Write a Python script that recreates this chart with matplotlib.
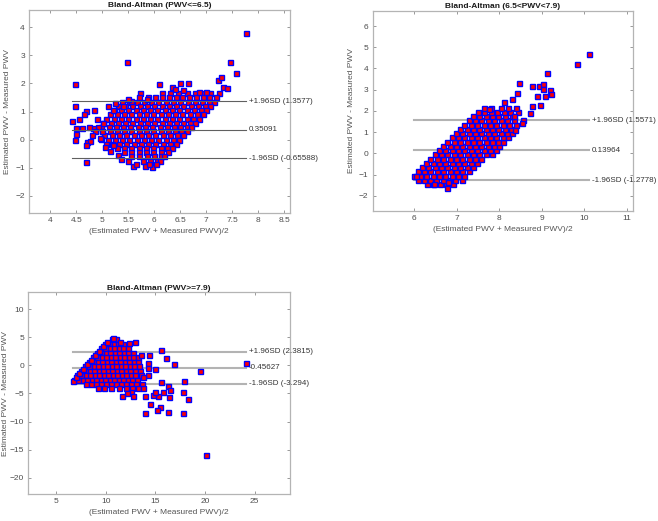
import matplotlib.pyplot as plt

plt.rcParams['font.family'] = ['Liberation Sans', 'DejaVu Sans']

# =========================================================
# Data
# each row: (difference, [means along that row])
# =========================================================

# --- PWV <= 6.5 ---
rows_low = [
    (1.65, [6.15, 6.30, 6.45, 6.62, 6.78, 6.93, 7.08, 7.25]),
    (1.50, [5.88, 6.02, 6.15, 6.28, 6.41, 6.54, 6.67, 6.80, 6.93, 7.06, 7.19]),
    (1.35, [5.38, 5.52, 5.66, 5.80, 5.94, 6.08, 6.22, 6.36, 6.50, 6.64, 6.78, 6.92, 7.05, 7.15]),
    (1.20, [5.30, 5.44, 5.58, 5.72, 5.86, 6.00, 6.14, 6.28, 6.42, 6.56, 6.70, 6.84, 6.97, 7.08]),
    (1.05, [5.22, 5.36, 5.50, 5.64, 5.78, 5.92, 6.06, 6.20, 6.34, 6.48, 6.62, 6.76, 6.90, 7.00]),
    (0.90, [5.14, 5.28, 5.42, 5.56, 5.70, 5.84, 5.98, 6.12, 6.26, 6.40, 6.54, 6.68, 6.82, 6.93]),
    (0.75, [5.08, 5.22, 5.36, 5.50, 5.64, 5.78, 5.92, 6.06, 6.20, 6.34, 6.48, 6.62, 6.75, 6.86]),
    (0.60, [5.02, 5.16, 5.30, 5.44, 5.58, 5.72, 5.86, 6.00, 6.14, 6.28, 6.42, 6.56, 6.68, 6.78]),
    (0.45, [4.98, 5.12, 5.26, 5.40, 5.54, 5.68, 5.82, 5.96, 6.10, 6.24, 6.38, 6.50, 6.62, 6.71]),
    (0.30, [5.00, 5.14, 5.28, 5.42, 5.56, 5.70, 5.84, 5.98, 6.12, 6.26, 6.40, 6.52, 6.63]),
    (0.15, [5.04, 5.18, 5.32, 5.46, 5.60, 5.74, 5.88, 6.02, 6.16, 6.30, 6.44, 6.56]),
    (0.00, [5.10, 5.24, 5.38, 5.52, 5.66, 5.80, 5.94, 6.08, 6.22, 6.36, 6.48]),
    (-0.15, [5.18, 5.32, 5.46, 5.60, 5.74, 5.88, 6.02, 6.16, 6.30, 6.41]),
    (-0.30, [5.28, 5.42, 5.56, 5.70, 5.84, 5.98, 6.12, 6.24, 6.34]),
    (-0.45, [5.42, 5.56, 5.70, 5.84, 5.98, 6.12, 6.26]),
    (-0.60, [5.55, 5.70, 5.85, 6.00, 6.12, 6.19]),
    (-0.75, [5.78, 5.92, 6.05, 6.11]),
]
extra_low_x = [7.76, 5.47, 7.45, 7.57, 4.47, 6.09, 6.49, 6.64, 7.22, 7.29, 7.32, 7.39,
               5.72, 6.34, 4.48, 4.42, 4.49, 4.49, 4.47, 4.69, 4.55, 4.71, 4.69, 4.77,
               4.68, 5.59, 5.82, 5.96, 6.04, 5.89, 5.86, 5.56, 5.40, 4.84, 4.92, 4.82,
               4.99, 4.98, 5.08, 5.01, 4.60, 4.75, 4.85, 4.90, 4.65, 4.80, 4.95, 5.05,
               5.15, 5.20, 5.30, 5.35, 5.50, 5.65, 5.10, 5.20, 5.25, 5.50, 5.70, 6.40,
               6.55, 6.85, 7.00]
extra_low_y = [3.79, 2.77, 2.76, 2.38, 1.97, 1.99, 2.03, 2.03, 2.11, 2.22, 1.87, 1.83,
               1.66, 1.87, 1.19, 0.66, 0.42, 0.19, -0.01, 1.01, 0.74, -0.09, -0.78, -0.04,
               -0.20, -0.94, -0.94, -0.99, -0.85, -0.88, 1.43, 1.36, 1.19, 1.07, 0.46, 0.42,
               0.29, 0.01, -0.17, 0.60, 0.40, 0.45, 0.30, 0.75, 0.90, 0.15, 0.05, -0.25,
               -0.40, -0.20, -0.55, -0.70, -0.75, -0.85, 1.20, 1.05, 1.30, 1.45, 1.50, 1.80,
               1.75, 1.70, 1.68]

# --- 6.5 < PWV < 7.9 ---
rows_mid = [
    (-1.45, [6.30, 6.45, 6.60, 6.75, 6.90]),
    (-1.25, [6.08, 6.22, 6.37, 6.52, 6.67, 6.82, 6.97, 7.12]),
    (-1.05, [6.00, 6.13, 6.28, 6.43, 6.58, 6.73, 6.88, 7.03, 7.18]),
    (-0.85, [6.08, 6.23, 6.38, 6.53, 6.68, 6.83, 6.98, 7.13, 7.28]),
    (-0.65, [6.18, 6.33, 6.48, 6.63, 6.78, 6.93, 7.08, 7.23, 7.38]),
    (-0.45, [6.28, 6.43, 6.58, 6.73, 6.88, 7.03, 7.18, 7.33, 7.48]),
    (-0.25, [6.38, 6.53, 6.68, 6.83, 6.98, 7.13, 7.28, 7.43, 7.58]),
    (-0.05, [6.48, 6.63, 6.78, 6.93, 7.08, 7.23, 7.38, 7.53, 7.68, 7.82]),
    (0.15, [6.58, 6.73, 6.88, 7.03, 7.18, 7.33, 7.48, 7.63, 7.78, 7.92]),
    (0.35, [6.68, 6.83, 6.98, 7.13, 7.28, 7.43, 7.58, 7.73, 7.88, 8.00]),
    (0.55, [6.78, 6.93, 7.08, 7.23, 7.38, 7.53, 7.68, 7.83, 7.98, 8.10]),
    (0.75, [6.88, 7.03, 7.18, 7.33, 7.48, 7.63, 7.78, 7.93, 8.08, 8.20]),
    (0.95, [6.98, 7.13, 7.28, 7.43, 7.58, 7.73, 7.88, 8.03, 8.18, 8.30]),
    (1.15, [7.08, 7.23, 7.38, 7.53, 7.68, 7.83, 7.98, 8.13, 8.28]),
    (1.35, [7.18, 7.33, 7.48, 7.63, 7.78, 7.93, 8.08, 8.23, 8.40]),
    (1.55, [7.28, 7.43, 7.58, 7.73, 7.88, 8.03, 8.18, 8.35, 8.55]),
    (1.75, [7.38, 7.53, 7.68, 7.83, 7.98, 8.13, 8.30]),
    (1.95, [7.50, 7.65, 7.80, 7.95, 8.12, 8.25, 8.45]),
    (2.15, [7.65, 7.80, 8.05, 8.20, 8.40]),
]
extra_mid_x = [10.12, 9.82, 9.12, 8.47, 8.41, 8.78, 8.93, 9.02, 9.02, 9.20, 9.23, 9.08,
               8.88, 8.96, 8.77, 8.73, 8.29, 8.11, 8.54, 8.38, 8.35, 7.76, 6.46, 6.76,
               6.79, 6.03]
extra_mid_y = [4.68, 4.20, 3.80, 3.31, 2.85, 3.17, 3.17, 3.26, 3.04, 3.00, 2.80, 2.72,
               2.69, 2.30, 2.22, 1.89, 2.57, 2.41, 1.43, 1.12, 1.78, 2.09, -1.46, -1.65,
               -1.37, -1.09]

# --- PWV >= 7.9 ---
rows_high = [
    (4.6, [10.60, 11.00]),
    (3.8, [9.90, 10.35, 10.80, 11.25, 11.70]),
    (3.0, [9.50, 9.95, 10.40, 10.85, 11.30, 11.75, 12.20]),
    (2.2, [9.10, 9.55, 10.00, 10.45, 10.90, 11.35, 11.80, 12.25, 12.70]),
    (1.4, [8.70, 9.15, 9.60, 10.05, 10.50, 10.95, 11.40, 11.85, 12.30, 12.75, 13.20]),
    (0.6, [8.30, 8.75, 9.20, 9.65, 10.10, 10.55, 11.00, 11.45, 11.90, 12.35, 12.80, 13.25]),
    (-0.2, [7.90, 8.35, 8.80, 9.25, 9.70, 10.15, 10.60, 11.05, 11.50, 11.95, 12.40, 12.85, 13.30]),
    (-1.0, [7.50, 7.95, 8.40, 8.85, 9.30, 9.75, 10.20, 10.65, 11.10, 11.55, 12.00, 12.45, 12.90, 13.40]),
    (-1.8, [7.10, 7.55, 8.00, 8.45, 8.90, 9.35, 9.80, 10.25, 10.70, 11.15, 11.60, 12.05, 12.50, 12.95, 13.50]),
    (-2.6, [6.80, 7.25, 7.70, 8.15, 8.60, 9.05, 9.50, 9.95, 10.40, 10.85, 11.30, 11.75, 12.20, 12.65, 13.10]),
    (-3.4, [8.00, 8.50, 9.00, 9.50, 10.00, 10.50, 11.00, 11.50, 12.00, 12.50, 13.00, 13.60]),
    (-4.1, [9.20, 9.80, 10.50, 11.30, 12.00, 12.60, 13.20]),
]
extra_high_x = [24.15, 19.48, 16.84, 16.10, 15.57, 14.26, 15.00, 17.91, 17.74, 18.24, 15.57, 16.27,
                16.44, 16.37, 15.74, 15.30, 14.77, 15.00, 14.50, 15.50, 15.20, 13.96, 16.27, 17.78,
                14.00, 20.12, 13.56, 14.40, 12.96, 12.32, 10.72, 11.42, 14.26, 14.26, 13.76, 13.76,
                12.59, 12.09, 11.62, 12.76, 6.67, 7.00, 7.30, 7.70, 8.10, 8.50, 8.90, 9.30,
                9.70, 10.10]
extra_high_y = [0.49, -0.93, 0.20, 1.26, 2.68, 0.37, -0.69, -2.82, -4.77, -5.95, -2.99, -3.59,
                -4.35, -5.59, -4.65, -5.36, -5.24, -4.65, -6.83, -7.37, -8.02, -8.43, -8.25, -8.43,
                -5.42, -15.99, 1.91, 1.91, 4.21, 3.92, 4.92, 4.21, -1.70, -0.51, -1.99, -4.06,
                -4.77, -4.94, -5.36, -5.36, -2.70, -2.00, -1.30, -0.60, 0.20, 1.00, 1.80, 2.60,
                3.40, 4.20]

# mean difference and limits of agreement
stats_low = [1.3577, 0.35091, -0.65588]
stats_mid = [1.5571, 0.13964, -1.2778]
stats_high = [2.3815, -0.45627, -3.294]
labels_low = ['+1.96SD (1.3577)', '0.35091', '-1.96SD (-0.65588)']
labels_mid = ['+1.96SD (1.5571)', '0.13964', '-1.96SD (-1.2778)']
labels_high = ['+1.96SD (2.3815)', '-0.45627', '-1.96SD (-3.294)']

titles = ['Bland-Altman (PWV<=6.5)', 'Bland-Altman (6.5<PWV<7.9)', 'Bland-Altman (PWV>=7.9)']


def flatten(rows, ex_x, ex_y):
    xs = [m for d, ms in rows for m in ms]
    ys = [d for d, ms in rows for m in ms]
    return xs + ex_x, ys + ex_y


# =========================================================
# One Bland-Altman panel
# =========================================================

def panel(ax, x, y, stats, labels, title, lines_on_top, line_col, line_w, ylpad=3):
    ax.plot(x, y, 's', ms=3.6, mfc='#ff0000', mec='#0000ff', mew=1.0, zorder=2)
    z = 3 if lines_on_top else 1
    for val, lab in zip(stats, labels):
        ax.plot([min(x), max(x)], [val, val], color=line_col, lw=line_w, zorder=z)
        ax.annotate(lab, xy=(max(x), val), xytext=(2, 0), textcoords='offset points',
                    va='center', ha='left', fontsize=5.8, color='#333333',
                    annotation_clip=False)
    ax.set_title(title, fontsize=6, fontweight='bold', color='#1a1a1a', pad=2)
    ax.set_xlabel('(Estimated PWV + Measured PWV)/2', fontsize=6, color='#555555', labelpad=3)
    ax.set_ylabel('Estimated PWV - Measured PWV', fontsize=6, color='#555555', labelpad=ylpad)
    ax.tick_params(direction='in', top=True, right=True, length=2, width=0.6,
                   color='#888888', labelsize=6, labelcolor='#4d4d4d', pad=3)
    for s in ax.spines.values():
        s.set_color('#b4b4b4')
        s.set_linewidth(0.9)


fig = plt.figure(figsize=(6.58, 5.21), dpi=100)

ax1 = fig.add_axes([0.0441, 0.5917, 0.3959, 0.3891])
x1, y1 = flatten(rows_low, extra_low_x, extra_low_y)
panel(ax1, x1, y1, stats_low, labels_low, titles[0], True, '#606060', 0.8)
ax1.set_xlim(3.59, 8.6)
ax1.set_ylim(-2.6, 4.61)
ax1.set_xticks([4, 4.5, 5, 5.5, 6, 6.5, 7, 7.5, 8, 8.5])
ax1.set_xticklabels(['4', '4.5', '5', '5.5', '6', '6.5', '7', '7.5', '8', '8.5'])
ax1.set_yticks([-2, -1, 0, 1, 2, 3, 4])

ax2 = fig.add_axes([0.5664, 0.5950, 0.3956, 0.3839])
x2, y2 = flatten(rows_mid, extra_mid_x, extra_mid_y)
panel(ax2, x2, y2, stats_mid, labels_mid, titles[1], False, '#b3b3b3', 1.5)
ax2.set_xlim(5.02, 11.15)
ax2.set_ylim(-2.72, 6.71)
ax2.set_xticks([6, 7, 8, 9, 10, 11])
ax2.set_yticks([-2, -1, 0, 1, 2, 3, 4, 5, 6])

ax3 = fig.add_axes([0.0430, 0.0518, 0.3977, 0.3871])
x3, y3 = flatten(rows_high, extra_high_x, extra_high_y)
panel(ax3, x3, y3, stats_high, labels_high, titles[2], False, '#b3b3b3', 1.5, ylpad=0.5)
ax3.set_xlim(2.2, 28.55)
ax3.set_ylim(-22.86, 12.97)
ax3.set_xticks([5, 10, 15, 20, 25])
ax3.set_yticks([-20, -15, -10, -5, 0, 5, 10])

fig.savefig('out.png', dpi=100)
